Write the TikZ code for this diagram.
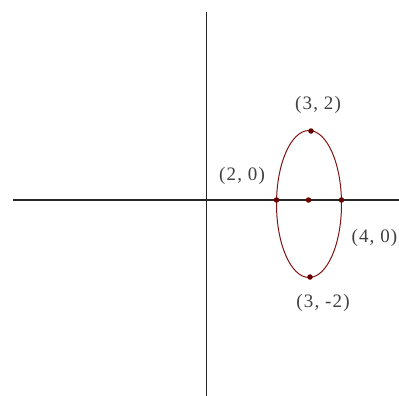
\documentclass[tikz,border=0pt]{standalone}
\usepackage{fontspec}
\setmainfont{Liberation Serif}
\usepackage{xcolor}
\usepackage{tikz}
\usetikzlibrary{positioning}
\definecolor{curvered}{RGB}{128,20,20}
\definecolor{dotred}{RGB}{100,0,0}
\tikzset{
  axis/.style={line width=1.4pt, black!85},
  curve/.style={line width=1pt, curvered},
  pt/.style={circle, fill=dotred, inner sep=0pt, minimum size=5.5pt},
  ptlbl/.style={font=\fontsize{19}{22}\selectfont\addfontfeature{LetterSpace=6},
                text=black!75, inner sep=0pt}
}
\begin{document}
\begin{tikzpicture}[x=1pt, y=-1pt]
\useasboundingbox (0,0) rectangle (399,396);
\coordinate (ytop) at (206.5,12);
\coordinate (ybot) at (206.5,396);
\coordinate (xleft) at (13,200);
\coordinate (xright) at (399,200);
\draw[axis] (ytop) -- (ybot);
\draw[axis] (xleft) -- (xright);
\coordinate (c) at (309,204);
\draw[curve] (c) ellipse [x radius=32.5pt, y radius=73.5pt];
\node[pt] (ctr) at (308.5,200) {};
\node[pt] (lft) at (276.5,200) {};
\node[pt] (rgt) at (341.5,200) {};
\node[pt] (top) at (311,131) {};
\node[pt] (bot) at (310,277) {};
\node[ptlbl] (ltop) at (318,105) {(3, 2)};
\node[ptlbl] (llft) at (242,176) {(2, 0)};
\node[ptlbl, anchor=east] (lrgt) at (397.5,238) {(4, 0)};
\node[ptlbl] (lbot) at (323,303) {(3, -2)};
\end{tikzpicture}
\end{document}
